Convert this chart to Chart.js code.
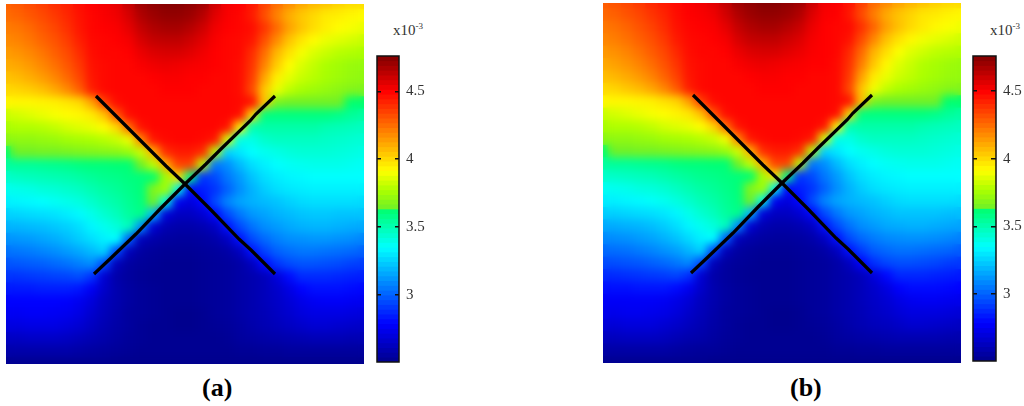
<!DOCTYPE html>
<html lang="en">
<head>
<meta charset="UTF-8">
<title>Heat maps (a) and (b)</title>
<script src="https://cdn.jsdelivr.net/npm/chart.js@4/dist/chart.umd.min.js"></script>
<style>
  body { margin: 0; background: #fff; width: 1024px; height: 406px; overflow: hidden; position: relative; }
  canvas, .label { position: absolute; }
  .scale { font: 15px "Liberation Serif", serif; color: #333; }
  .scale sup { font-size: 9px; vertical-align: 6px; line-height: 0; }
  .caption { font: bold 26px "Liberation Serif", serif; color: #000; }
</style>
</head>
<body>
<canvas id="fieldA" width="358" height="360" style="left:6px;top:4px"></canvas>
<canvas id="barA" width="80" height="340" style="left:370px;top:40px"></canvas>
<div class="label scale" style="left:393px;top:22px">x10<sup>-3</sup></div>
<div class="label caption" style="left:202px;top:373px">(a)</div>

<canvas id="fieldB" width="358" height="360" style="left:603px;top:3px"></canvas>
<canvas id="barB" width="58" height="340" style="left:966px;top:40px"></canvas>
<div class="label scale" style="left:990px;top:22px">x10<sup>-3</sup></div>
<div class="label caption" style="left:790px;top:373px">(b)</div>

<script>
// values x 1e-5, rows top to bottom
const gridA = [
  [428,430,433,436,440,443,447,450,452,455,462,470,473,475,475,473,470,460,452,450,445,435,425,418,412,408,405,402,400,399],
  [425,427,430,433,437,441,446,449,451,453,458,466,470,472,472,470,465,456,451,449,444,432,420,410,404,400,396,395,393,392],
  [421,423,426,430,434,439,445,449,450,451,455,462,466,468,468,465,460,453,450,449,447,438,426,413,405,399,395,392,390,388],
  [418,420,423,427,431,436,443,448,449,450,452,458,462,463,463,460,456,451,449,448,445,432,418,405,397,392,388,386,384,382],
  [414,416,419,423,428,433,440,447,449,449,450,454,457,458,458,456,453,450,449,448,440,425,408,398,390,385,382,379,378,377],
  [410,412,415,419,424,430,437,446,448,449,449,451,453,454,453,452,451,450,449,447,438,420,403,392,385,381,377,375,373,372],
  [405,407,410,414,419,426,434,445,448,449,449,449,450,451,451,450,450,449,449,447,436,412,395,387,382,379,376,374,372,371],
  [400,401,403,406,411,418,428,443,448,449,449,449,449,450,450,450,449,449,449,447,433,404,388,380,376,374,372,370,368,367],
  [393,393,393,394,395,397,400,412,435,447,449,449,449,449,449,449,449,449,449,448,446,405,366,364,364,364,364,364,363,363],
  [382,384,386,388,390,392,393,396,405,430,447,449,449,449,449,449,449,449,449,447,400,360,360,360,360,360,360,358,355,353],
  [376,378,378,379,381,384,386,388,392,400,425,446,449,449,449,449,449,449,446,395,350,352,352,352,352,352,350,349,348,347],
  [370,371,371,372,373,375,376,377,379,382,388,420,445,448,449,449,448,445,385,340,340,345,347,347,347,347,346,345,344,343],
  [363,364,364,365,365,366,367,368,369,370,373,382,410,440,444,444,440,380,325,330,335,338,340,342,343,343,343,342,341,340],
  [354,355,355,356,357,358,360,361,361,362,362,364,380,410,435,435,380,305,310,320,328,332,335,337,338,339,339,339,338,337],
  [345,347,348,349,350,351,353,355,357,358,360,361,363,375,400,360,290,295,305,313,322,328,331,333,334,335,335,335,335,335],
  [338,339,340,342,343,345,347,350,353,355,358,361,368,375,340,280,285,290,300,310,318,324,328,330,331,332,332,332,332,332],
  [332,333,334,335,337,339,341,345,349,352,356,360,364,340,275,270,280,295,308,315,318,320,322,325,327,328,328,328,328,327],
  [325,326,327,328,329,331,334,339,344,348,354,358,320,270,264,264,268,280,295,305,312,315,318,320,322,323,323,322,322,322],
  [318,319,320,321,323,325,328,333,338,342,348,310,268,260,258,258,260,264,282,295,304,310,313,316,318,319,319,318,317,316],
  [311,312,313,315,317,320,324,328,332,335,300,262,258,256,255,255,256,258,264,282,295,302,307,310,311,312,312,311,310,308],
  [304,305,306,308,310,313,316,320,325,295,262,256,254,253,253,253,254,255,257,263,282,293,300,303,305,305,304,303,302,300],
  [297,298,299,300,302,304,307,310,295,262,256,254,253,252,252,252,253,254,255,257,263,280,290,295,297,297,296,295,293,292],
  [290,290,291,292,293,294,296,290,268,258,255,253,252,252,252,252,253,254,255,257,259,262,270,281,288,288,288,287,286,285],
  [284,284,284,285,285,285,283,276,266,259,256,254,253,252,252,252,253,254,255,257,259,262,266,272,279,282,282,282,281,280],
  [279,279,279,279,279,278,275,270,263,259,256,254,253,252,252,252,253,254,255,257,259,262,265,269,273,276,277,277,276,275],
  [276,276,277,277,276,275,272,267,262,258,255,254,253,252,251,251,252,254,255,257,259,261,264,267,270,272,272,272,271,270],
  [271,271,272,272,272,270,268,264,260,257,255,253,252,252,251,251,252,253,254,256,258,260,262,264,266,268,268,267,266,265],
  [264,264,265,265,265,264,262,260,258,256,254,253,252,252,252,252,252,252,253,255,256,257,258,259,260,261,261,261,260,260],
  [258,258,258,258,258,258,257,256,255,254,253,252,252,252,252,252,252,252,252,253,253,254,254,255,255,255,255,255,255,255],
  [252,252,252,252,252,252,252,252,252,251,251,251,251,251,251,251,251,251,251,251,251,251,251,251,251,251,251,251,251,251]
];
const gridB = [
  [429,431,434,437,441,444,448,451,453,456,463,470,473,475,475,473,470,461,453,451,446,436,426,419,413,409,406,403,401,400],
  [426,428,431,434,438,442,447,450,451,453,459,466,470,472,472,470,466,457,451,450,445,433,421,411,405,401,397,396,394,393],
  [422,424,427,431,435,440,446,449,450,451,455,462,466,468,468,465,461,454,450,449,448,439,427,414,406,400,396,393,391,389],
  [419,421,424,428,432,437,444,448,449,450,452,458,462,463,463,460,457,452,450,449,446,433,419,406,398,393,389,387,385,383],
  [415,417,420,424,429,434,441,447,449,449,450,454,457,458,458,456,454,451,450,449,441,426,409,399,391,386,383,380,379,378],
  [411,413,416,420,425,431,438,446,448,449,449,451,453,454,453,452,451,450,450,448,439,421,404,393,386,382,378,376,374,373],
  [406,408,411,415,420,427,435,445,448,449,449,449,450,451,451,450,450,449,449,448,437,413,396,388,383,380,377,375,373,372],
  [400,401,404,407,412,419,429,443,448,449,449,449,449,450,450,450,449,449,449,448,434,405,389,381,377,375,373,371,369,368],
  [393,393,393,394,395,398,401,413,436,447,449,449,449,449,449,449,449,449,449,448,446,406,366,364,364,364,364,364,363,363],
  [382,384,386,388,390,392,394,397,406,431,447,449,449,449,449,449,449,449,449,447,401,360,360,360,360,360,360,358,355,353],
  [376,378,378,379,381,384,386,388,392,401,426,446,449,449,449,449,449,449,446,395,350,352,352,352,352,352,350,349,348,347],
  [370,371,371,372,373,375,376,377,379,382,389,421,445,448,449,449,448,445,385,340,340,345,347,347,347,347,346,345,344,343],
  [363,364,364,365,365,366,367,368,369,370,373,383,411,440,444,444,440,380,325,330,335,338,340,342,343,343,343,342,341,340],
  [354,355,355,356,357,358,360,361,361,362,362,364,381,411,435,435,380,305,310,320,328,332,335,337,338,339,339,339,338,337],
  [345,346,347,348,349,351,353,355,357,358,360,361,363,376,400,360,290,295,305,313,322,328,331,333,334,335,335,335,335,335],
  [337,338,339,341,342,344,347,350,353,355,358,361,368,375,340,280,285,290,300,310,318,324,328,330,331,332,332,332,332,332],
  [331,332,333,334,336,338,341,345,349,352,356,360,364,340,275,270,280,295,308,315,318,320,322,325,327,328,328,328,328,327],
  [324,325,326,327,328,330,333,339,344,348,354,358,320,270,264,264,268,280,295,305,312,315,318,320,322,322,322,322,321,321],
  [316,317,318,319,321,324,328,333,338,342,348,310,268,260,258,258,260,264,282,295,304,310,313,316,317,318,318,317,316,315],
  [309,310,311,313,315,318,322,327,332,335,300,262,258,256,255,255,256,258,264,282,295,302,306,309,310,311,311,310,309,307],
  [302,303,304,306,308,311,314,319,325,295,262,256,254,253,253,253,254,255,257,263,282,292,299,302,304,304,303,302,301,299],
  [295,296,297,298,300,302,305,309,295,262,256,254,253,252,252,252,253,254,255,257,263,279,289,294,296,296,295,294,292,291],
  [288,288,289,290,291,292,294,289,268,258,255,253,252,252,252,252,253,254,255,257,259,262,270,280,287,287,287,286,285,284],
  [282,282,282,283,283,283,281,275,266,259,256,254,253,252,252,252,253,254,255,257,259,262,266,271,278,281,281,281,280,279],
  [277,277,277,277,277,276,273,269,263,259,256,254,253,252,252,252,253,254,255,257,259,262,265,268,272,275,276,276,275,274],
  [274,274,275,275,274,273,270,266,262,258,255,254,253,252,251,251,252,254,255,257,259,261,264,266,269,271,271,271,270,269],
  [269,269,270,270,270,268,266,263,260,257,255,253,252,252,251,251,252,253,254,256,258,260,262,263,265,267,267,266,265,264],
  [263,263,264,264,264,263,261,259,258,256,254,253,252,252,252,252,252,252,253,255,256,257,258,259,260,260,260,260,259,259],
  [257,257,257,257,257,257,256,255,254,254,253,252,252,252,252,252,252,252,252,253,253,254,254,255,255,255,255,255,255,255],
  [252,252,252,252,252,252,252,252,252,251,251,251,251,251,251,251,251,251,251,251,251,251,251,251,251,251,251,251,251,251]
];

// the X drawn over each field, in field units
const armDown = [[90,92],[112,114],[125,127],[141,143],[160,162],[179,180],[205,206],[233,235],[245,246],[250,251],[269,270]];
const armUp = [[269,92],[250,110],[244,117],[215,145],[200,160],[179,180],[160,199],[155,204],[130,230],[105,254],[88,270]];

const barTicks = [3, 3.5, 4, 4.5];
const barMin = 2.505;
const barMax = 4.76;
const barLevels = 64;

const cmapStops = [
  [0, 0, 0, 140], [0.125, 0, 0, 255], [0.375, 0, 255, 255], [0.5, 0, 255, 110],
  [0.5001, 110, 240, 40], [0.56, 170, 255, 0], [0.625, 255, 255, 0], [0.885, 255, 0, 0], [1, 128, 0, 0]
];

function colorAt(v) {
  const t = Math.min(1, Math.max(0, (v - barMin) / (barMax - barMin)));
  let i = 1;
  while (i < cmapStops.length - 1 && cmapStops[i][0] < t) i++;
  const a = cmapStops[i - 1], b = cmapStops[i];
  const f = (t - a[0]) / (b[0] - a[0]);
  const c = [1, 2, 3].map(k => Math.round(a[k] + (b[k] - a[k]) * f));
  return `rgb(${c[0]},${c[1]},${c[2]})`;
}

// smooth the cells once they are all on the canvas, before the X goes on top
const softField = {
  id: 'softField',
  afterDatasetDraw(chart, args) {
    if (chart.data.datasets[args.index].label !== 'field') return;
    const ctx = chart.ctx;
    ctx.save();
    ctx.filter = 'blur(4.5px)';
    ctx.drawImage(chart.canvas, 0, 0);
    ctx.restore();
  }
};

const barFrame = {
  id: 'barFrame',
  afterDraw(chart) {
    const a = chart.chartArea, ctx = chart.ctx;
    ctx.save();
    ctx.strokeStyle = '#111';
    ctx.lineWidth = 1.5;
    ctx.strokeRect(a.left, a.top, a.right - a.left, a.bottom - a.top);
    ctx.restore();
  }
};

function drawField(id, grid) {
  const n = grid.length;
  const points = [], colors = [];
  grid.forEach((row, j) => row.forEach((v, i) => {
    points.push({ x: i * 358 / (n - 1), y: j * 360 / (n - 1) });
    colors.push(colorAt(v / 100));
  }));
  const arm = pts => ({
    label: 'arm', order: 0, data: pts.map(p => ({ x: p[0], y: p[1] })), showLine: true,
    borderColor: '#000', borderWidth: 3.2, pointRadius: 0, clip: 0
  });
  new Chart(document.getElementById(id), {
    type: 'scatter',
    data: {
      datasets: [
        arm(armDown),
        arm(armUp),
        { label: 'field', order: 1, data: points, pointStyle: 'rect', pointRadius: 10,
          pointBackgroundColor: colors, pointBorderWidth: 0, clip: 0 }
      ]
    },
    options: {
      responsive: false, animation: false, events: [],
      layout: { padding: 0, autoPadding: false },
      plugins: { legend: { display: false }, tooltip: { enabled: false } },
      scales: {
        x: { type: 'linear', display: false, min: 0, max: 358 },
        y: { type: 'linear', display: false, reverse: true, min: 0, max: 360 }
      }
    },
    plugins: [softField]
  });
}

function drawBar(id, leftPad, axisWidth, topPad, bottomPad) {
  const step = (barMax - barMin) / barLevels;
  const datasets = [];
  for (let k = 0; k < barLevels; k++) {
    const lo = barMin + k * step;
    datasets.push({
      data: [[lo, lo + step * 1.3]],
      backgroundColor: colorAt(lo + step / 2),
      barPercentage: 1, categoryPercentage: 1, borderWidth: 0, order: barLevels - k
    });
  }
  new Chart(document.getElementById(id), {
    type: 'bar',
    data: { labels: ['level'], datasets },
    options: {
      responsive: false, animation: false, events: [],
      layout: { padding: { left: leftPad, top: topPad, bottom: bottomPad, right: 0 } },
      plugins: { legend: { display: false }, tooltip: { enabled: false } },
      scales: {
        x: { display: false, stacked: true },
        y: {
          position: 'right', min: barMin, max: barMax,
          afterBuildTicks(s) { s.ticks = barTicks.map(v => ({ value: v })); },
          afterFit(s) { s.width = axisWidth; },
          border: { display: false, dash: [4, 14, 4, 0] },
          grid: { color: '#111', lineWidth: 1.5, drawTicks: false, z: 1 },
          ticks: {
            color: '#333', padding: 7, autoSkip: false,
            font: { family: 'Liberation Serif', size: 15 },
            callback: v => String(v)
          }
        }
      }
    },
    plugins: [barFrame]
  });
}

drawField('fieldA', gridA);
drawField('fieldB', gridB);
drawBar('barA', 7, 51, 12, 18);
drawBar('barB', 7, 28, 12, 19);
</script>
</body>
</html>
